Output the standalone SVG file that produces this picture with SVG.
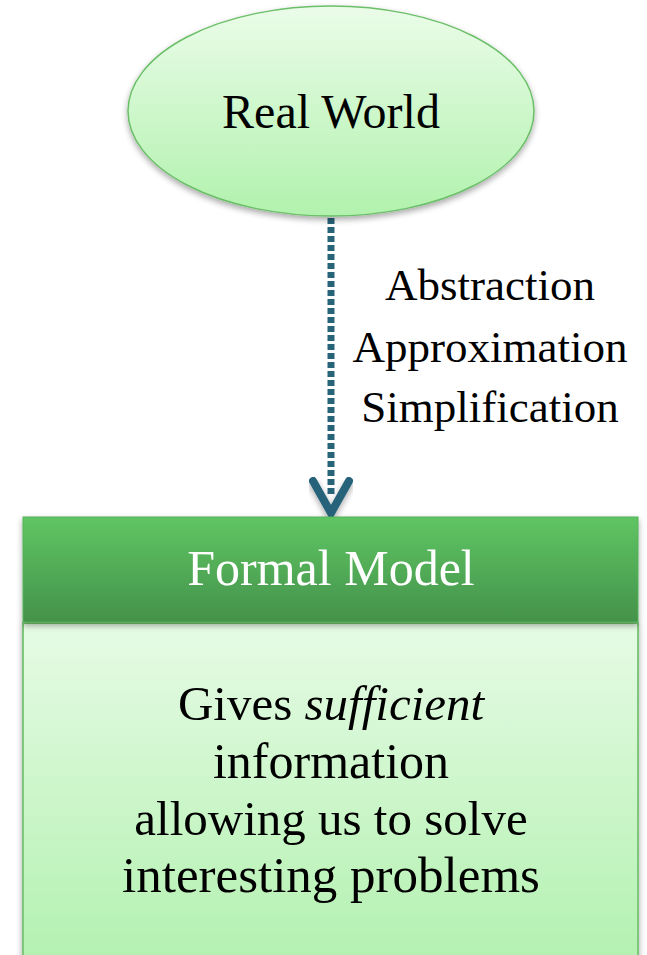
<svg xmlns="http://www.w3.org/2000/svg" width="647" height="955" viewBox="0 0 647 955">
  <style>
    .t { font-family: "Liberation Serif", "DejaVu Serif", serif; fill: #000; text-anchor: middle; }
    .w { fill: #ffffff; }
  </style>
  <defs>
    <linearGradient id="gEll" x1="0" y1="0" x2="0" y2="1">
      <stop offset="0" stop-color="#ebfce9"/>
      <stop offset="1" stop-color="#b1f2ad"/>
    </linearGradient>
    <linearGradient id="gHead" x1="0" y1="0" x2="0" y2="1">
      <stop offset="0" stop-color="#5fc563"/>
      <stop offset="1" stop-color="#44924a"/>
    </linearGradient>
    <linearGradient id="gBody" x1="0" y1="0" x2="0" y2="1">
      <stop offset="0" stop-color="#e6fbe5"/>
      <stop offset="1" stop-color="#b3f1b0"/>
    </linearGradient>
    <filter id="sh" x="-10%" y="-10%" width="120%" height="130%">
      <feGaussianBlur in="SourceAlpha" stdDeviation="3"/>
      <feOffset dx="0" dy="3" result="b"/>
      <feComponentTransfer><feFuncA type="linear" slope="0.35"/></feComponentTransfer>
      <feMerge><feMergeNode/><feMergeNode in="SourceGraphic"/></feMerge>
    </filter>
  </defs>

  <g id="connectors">
    <line x1="331" y1="218" x2="331" y2="496" stroke="#27647a" stroke-width="7" stroke-dasharray="6 3"/>
    <polyline points="313,481 331,513 349,481" fill="none" stroke="#27647a" stroke-width="8" stroke-linecap="round" stroke-linejoin="miter" filter="url(#sh)"/>
  </g>

  <g id="real-world">
    <ellipse cx="331" cy="111" rx="203" ry="105" fill="url(#gEll)" stroke="#6cbf69" stroke-width="1.5" filter="url(#sh)"/>
    <text class="t" x="331" y="128" font-size="48">Real World</text>
  </g>

  <g id="labels">
    <text class="t" x="490" y="300" font-size="45">Abstraction</text>
    <text class="t" x="490" y="362" font-size="45">Approximation</text>
    <text class="t" x="490" y="422" font-size="45">Simplification</text>
  </g>

  <g id="formal-model-body">
    <rect x="23" y="623" width="615" height="340" fill="url(#gBody)" stroke="#7dc87a" stroke-width="2" filter="url(#sh)"/>
    <text class="t" x="331" y="720" font-size="49">Gives <tspan font-style="italic">sufficient</tspan></text>
    <text class="t" x="331" y="778" font-size="50">information</text>
    <text class="t" x="331" y="835" font-size="49">allowing us to solve</text>
    <text class="t" x="331" y="892" font-size="51">interesting problems</text>
  </g>

  <g id="formal-model-header">
    <rect x="23" y="517" width="615" height="105" fill="url(#gHead)" stroke="#55b159" stroke-width="1" filter="url(#sh)"/>
    <text class="t w" x="331" y="585" font-size="50">Formal Model</text>
  </g>
</svg>
